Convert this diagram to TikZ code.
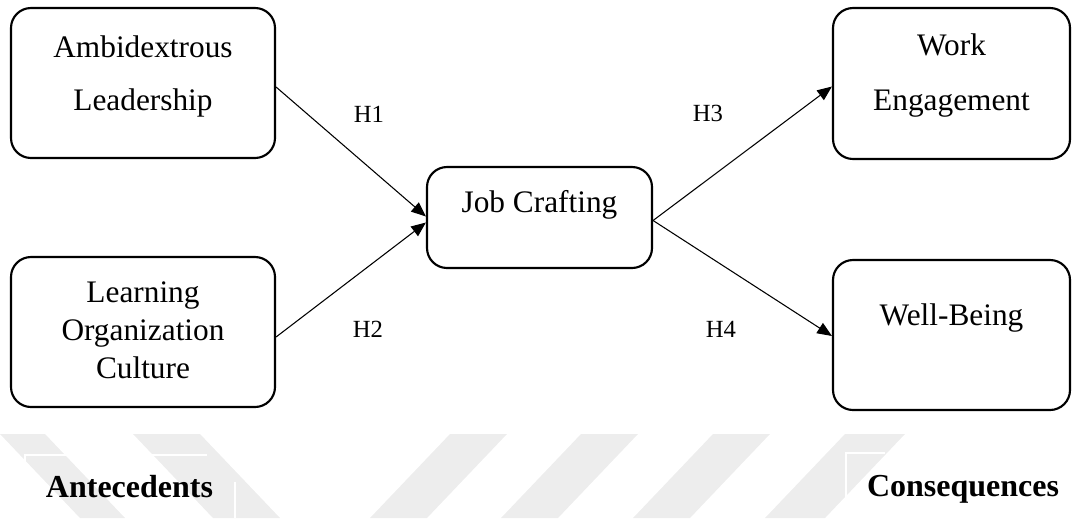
\documentclass[tikz,border=0pt]{standalone}
\usepackage{fontspec}
\setmainfont{Liberation Serif}
\usetikzlibrary{arrows.meta,calc}
\begin{document}
\begin{tikzpicture}[x=0.75pt,y=-0.75pt,
  box/.style={draw, line width=1.6pt, rounded corners=15pt, inner sep=0pt},
  boxtext/.style={font=\fontsize{23.5}{28}\selectfont, anchor=base, inner sep=0pt},
  hlabel/.style={font=\fontsize{18.5}{22}\selectfont, inner sep=0pt},
  head/.style={font=\bfseries\fontsize{24}{28}\selectfont, anchor=base, inner sep=0pt},
  link/.style={line width=0.8pt, -{Triangle[length=11pt,width=9pt]}},
  wm/.style={fill=black!7, draw=none},
  wmline/.style={draw=white, line width=1.2pt},
]
\useasboundingbox (0,0) rectangle (1073,518);

% faint watermark
\fill[wm] (0,434) -- (45,434) -- (125,518) -- (80,518) -- cycle;
\fill[wm] (133,434) -- (200,434) -- (280,518) -- (213,518) -- cycle;
\fill[wm] (450,434) -- (507,434) -- (427,518) -- (370,518) -- cycle;
\fill[wm] (581,434) -- (638,434) -- (558,518) -- (501,518) -- cycle;
\fill[wm] (713,434) -- (770,434) -- (690,518) -- (633,518) -- cycle;
\fill[wm] (845,434) -- (905,434) -- (825,518) -- (765,518) -- cycle;
\draw[wmline] (25,518) -- (25,455) -- (207,455);
\draw[wmline] (235,482) -- (235,518);
\draw[wmline] (846,518) -- (846,453) -- (885,453);

% boxes
\node[box, minimum width=198pt, minimum height=112.5pt] (amb) at (143,83) {};
\node[box, minimum width=198pt, minimum height=112.5pt] (lea) at (143,332) {};
\node[box, minimum width=168.75pt, minimum height=75.75pt] (job) at (539.5,217.5) {};
\node[box, minimum width=177.75pt, minimum height=113.25pt] (work) at (951.5,83.5) {};
\node[box, minimum width=177.75pt, minimum height=112.5pt] (well) at (951.5,335) {};

% box texts
\node[boxtext] (t1) at (143,57) {Ambidextrous};
\node[boxtext] (t2) at (143,110) {Leadership};
\node[boxtext] (t3) at (143,302) {Learning};
\node[boxtext] (t4) at (143,340) {Organization};
\node[boxtext] (t5) at (143,378) {Culture};
\node[boxtext] (t6) at (539.5,212) {Job Crafting};
\node[boxtext] (t7) at (951.5,55) {Work};
\node[boxtext] (t8) at (951.5,110) {Engagement};
\node[boxtext] (t9) at (951.5,325) {Well-Being};

% connectors
\draw[link] ($(amb.east)+(0,4)$) -- ($(job.west)+(0,-1)$);
\draw[link] ($(lea.east)+(0,5)$) -- ($(job.west)+(0,5)$);
\draw[link] ($(job.east)+(0,3)$) -- ($(work.west)+(0,3)$);
\draw[link] ($(job.east)+(0,3)$) -- ($(well.west)+(0,1)$);

% hypothesis labels
\node[hlabel] (h1) at (369,114) {H1};
\node[hlabel] (h2) at (368,329) {H2};
\node[hlabel] (h3) at (708,113) {H3};
\node[hlabel] (h4) at (721,329) {H4};

% headings
\node[head] (ant) at (129.5,497) {Antecedents};
\node[head] (con) at (963,496) {Consequences};
\end{tikzpicture}
\end{document}
